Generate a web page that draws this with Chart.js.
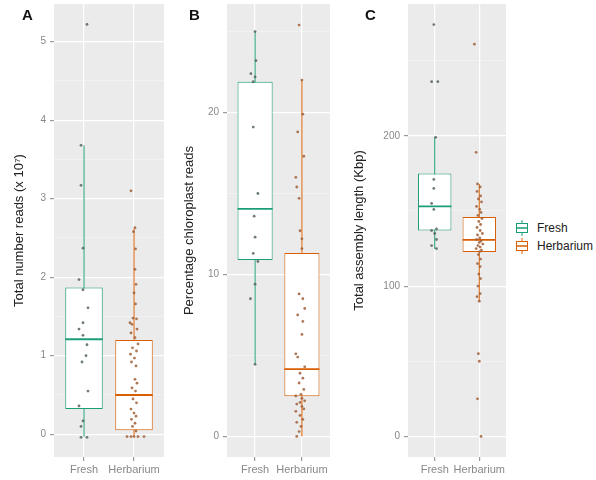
<!DOCTYPE html>
<html>
<head>
<meta charset="utf-8">
<script src="https://cdn.jsdelivr.net/npm/chart.js@4.4.1/dist/chart.umd.min.js"></script>
<style>
  body { margin: 0; background: #fff; font-family: "Liberation Sans", Arial, sans-serif; }
  #fig { position: relative; width: 596px; height: 480px; }
  .panel { position: absolute; top: 0; height: 480px; }
  .tag { position: absolute; top: 6px; font-weight: bold; font-size: 15px; color: #111; }
  .legend { position: absolute; left: 515px; top: 219px; font-size: 12px; color: #222; }
  .legend div { height: 18px; display: flex; align-items: center; }
  .legend svg { margin-right: 8px; }
</style>
</head>
<body>
<div id="fig">
  <div class="panel" style="left:0;width:168px"><canvas id="chartA"></canvas></div>
  <div class="panel" style="left:170px;width:164px"><canvas id="chartB"></canvas></div>
  <div class="panel" style="left:340px;width:170px"><canvas id="chartC"></canvas></div>
  <span class="tag" style="left:22px">A</span>
  <span class="tag" style="left:189px">B</span>
  <span class="tag" style="left:365px">C</span>
  <div class="legend">
    <div><svg width="14" height="16"><line x1="7" y1="0" x2="7" y2="16" stroke="#1b9e77"/><rect x="1.5" y="3.5" width="11" height="9" fill="#fff" stroke="#1b9e77"/><line x1="1.5" y1="8" x2="12.5" y2="8" stroke="#1b9e77" stroke-width="1.5"/></svg>Fresh</div>
    <div><svg width="14" height="16"><line x1="7" y1="0" x2="7" y2="16" stroke="#d95f02"/><rect x="1.5" y="3.5" width="11" height="9" fill="#fff" stroke="#d95f02"/><line x1="1.5" y1="8" x2="12.5" y2="8" stroke="#d95f02" stroke-width="1.5"/></svg>Herbarium</div>
  </div>
</div>
<script>
// ---------- categories ----------
const groups = ["Fresh", "Herbarium"];
const groupColors = ["#1b9e77", "#d95f02"];

// ---------- A: total number reads (x 10^7) ----------
// box stats: [lower whisker, q1, median, q3, upper whisker]
const freshReadsBox = [-0.03, 0.32, 1.21, 1.87, 3.68];
const herbReadsBox = [-0.03, 0.05, 0.50, 1.20, 2.62];
const freshReads = [5.22, 3.68, 3.17, 2.37, 1.97, 1.84, 1.61, 1.42, 1.34, 1.26, 1.14, 1.00, 0.92, 0.55, 0.36, 0.17, 0.10, -0.04, -0.04];
const freshReadsJit = [0.06, -0.06, -0.06, -0.02, -0.10, -0.02, 0.08, -0.02, -0.10, -0.02, 0.06, 0.04, -0.04, 0.08, -0.10, -0.02, -0.06, -0.06, 0.06];
const herbReads = [3.10, 2.63, 2.58, 2.36, 2.10, 1.91, 1.80, 1.66, 1.48, 1.47, 1.42, 1.40, 1.34, 1.29, 1.23, 1.15, 1.10, 1.06, 1.02, 0.97,
  0.92, 0.87, 0.70, 0.65, 0.59, 0.55, 0.45, 0.40, 0.32, 0.27, 0.23, 0.19, 0.14, 0.10, 0.04, -0.03, -0.03, -0.03, -0.03, -0.03];
const herbReadsJit = [-0.06, 0.02, -0.01, 0.03, 0.02, 0.04, 0.00, 0.03, -0.02, 0.05, -0.08, -0.04, 0.06, -0.06, 0.02, 0.08, -0.03, 0.05, -0.07, 0.01,
  -0.05, 0.04, 0.02, 0.06, -0.04, 0.03, -0.02, 0.05, -0.06, 0.00, 0.04, -0.05, 0.02, -0.03, 0.04, -0.14, -0.06, 0.00, 0.08, 0.20];
const readsMajor = [0, 1, 2, 3, 4, 5];
const readsMinor = [0.5, 1.5, 2.5, 3.5, 4.5];

// ---------- B: percentage chloroplast reads ----------
const freshChloroBox = [4.45, 10.9, 14.05, 21.9, 25.0];
const herbChloroBox = [0.0, 2.48, 4.15, 11.33, 22.0];
const freshChloro = [25.0, 23.2, 22.4, 22.2, 21.9, 19.1, 15.0, 13.6, 12.3, 11.3, 10.8, 9.4, 8.5, 4.45];
const freshChloroJit = [0, 0.02, -0.09, 0, -0.04, -0.04, 0.06, -0.02, 0, -0.04, 0.06, 0, -0.10, 0];
const herbChloro = [25.4, 22.0, 19.9, 18.8, 17.3, 16.0, 15.4, 14.7, 12.7, 12.2, 11.6, 8.8, 8.5, 7.9, 7.5, 7.1, 6.3, 5.1, 4.9, 4.3,
  3.9, 3.6, 3.3, 2.9, 2.6, 2.5, 2.35, 2.2, 2.1, 2.0, 1.85, 1.7, 1.55, 1.3, 1.05, 0.87, 0.62, 0.3, 0.0];
const herbChloroJit = [-0.06, 0, 0.02, -0.09, 0.04, -0.13, -0.11, -0.06, -0.04, 0, 0, -0.06, 0.02, 0.06, -0.09, 0.02, 0, -0.13, -0.09, 0.06,
  -0.04, 0.02, -0.06, 0.04, -0.02, -0.13, 0, 0.06, -0.04, -0.11, 0, 0.04, -0.13, -0.04, 0.02, -0.11, -0.02, -0.06, -0.11];
const chloroMajor = [0, 10, 20];
const chloroMinor = [5, 15, 25];

// ---------- C: total assembly length (Kbp) ----------
const freshLenBox = [124.7, 137, 153, 175, 199];
const herbLenBox = [90, 122.7, 130.7, 146, 168];
const freshLen = [274, 236, 236, 199, 171, 165, 155, 151, 138, 137, 135, 131, 127, 125];
const freshLenJit = [-0.02, -0.07, 0.07, 0.02, -0.02, -0.02, -0.07, -0.02, 0.04, -0.07, 0, 0.04, -0.07, 0.04];
const herbLen = [261, 189, 168, 166, 163, 160, 158, 156, 153, 151, 149, 147, 145, 143, 141, 139, 137, 135, 134, 132,
  131, 130, 129, 128, 127, 126, 125, 124, 123, 121, 118, 115, 113, 108, 105, 100, 95, 93, 90, 55, 50, 25, 0];
const herbLenJit = [-0.11, -0.07, -0.04, 0.02, -0.05, 0.03, -0.02, 0.05, -0.06, 0.01, 0.04, -0.03, 0.06, -0.01, 0.03, -0.05, 0.02, 0.07, -0.04, 0.01,
  -0.06, 0.04, 0.00, 0.08, -0.03, 0.02, -0.07, 0.05, 0.01, -0.02, 0.03, -0.04, 0.02, -0.01, 0.03, -0.03, 0.02, -0.05, 0.00, -0.02, 0.00, -0.04, 0.04];
const lenMajor = [0, 100, 200];
const lenMinor = [50, 150, 250];

// ---------- helpers ----------
const pointColors = ["rgba(85,100,95,0.85)", "rgba(160,95,55,0.85)"];

const panelBg = {
  id: "panelBg",
  beforeDraw(chart) {
    const { ctx, chartArea: a } = chart;
    ctx.save();
    ctx.fillStyle = "#ebebeb";
    ctx.fillRect(a.left, a.top, a.width, a.height);
    ctx.restore();
  }
};

function boxDatasets(boxes) {
  const sets = [];
  boxes.forEach((b, i) => {
    const g = i + 1;
    // whisker (drawn under the box)
    sets.push({
      type: "line", order: 3,
      data: [{ x: g, y: b[0] }, { x: g, y: b[4] }],
      borderColor: groupColors[i], borderWidth: 1, pointRadius: 0
    });
    // median
    sets.push({
      type: "line", order: 1,
      data: [{ x: g - 0.375, y: b[2] }, { x: g + 0.375, y: b[2] }],
      borderColor: groupColors[i], borderWidth: 1.8, pointRadius: 0
    });
  });
  // boxes q1..q3
  sets.push({
    type: "bar", order: 2,
    data: boxes.map((b, i) => ({ x: i + 1, y: [b[1], b[3]] })),
    backgroundColor: "#ffffff",
    borderColor: groupColors,
    borderWidth: 1,
    borderSkipped: false,
    barPercentage: 0.75,
    categoryPercentage: 1
  });
  return sets;
}

function pointDataset(values, jitter, i) {
  return {
    type: "scatter", order: 0,
    data: values.map((v, k) => ({ x: i + 1 + (jitter[k] || 0), y: v })),
    backgroundColor: pointColors[i],
    borderWidth: 0,
    pointRadius: 1.4
  };
}

function makePanel(id, o) {
  const allTicks = o.major.concat(o.minor).sort((a, b) => a - b);
  const isMajor = v => o.major.includes(v);
  new Chart(document.getElementById(id), {
    type: "scatter",
    data: {
      datasets: [
        pointDataset(o.fresh, o.freshJit, 0),
        pointDataset(o.herb, o.herbJit, 1),
        ...boxDatasets([o.freshBox, o.herbBox])
      ]
    },
    options: {
      responsive: false,
      animation: false,
      layout: { padding: { top: 4, right: 4, left: 0, bottom: 0 } },
      plugins: { legend: { display: false }, tooltip: { enabled: false } },
      scales: {
        x: {
          type: "linear", min: 0.4, max: 2.6, offset: false,
          afterBuildTicks: s => { s.ticks = [{ value: 1 }, { value: 2 }]; },
          afterFit: s => { s.height = 23; s.paddingLeft = 0; s.paddingRight = 0; },
          ticks: { callback: v => groups[v - 1], color: "#888", font: { size: 11, family: "Liberation Sans" }, padding: 2, maxRotation: 0, autoSkip: false },
          grid: { color: "#ffffff", lineWidth: 1.2, tickColor: "#999", tickLength: 4, offset: false },
          border: { display: false }
        },
        y: {
          min: o.min, max: o.max,
          afterBuildTicks: s => { s.ticks = allTicks.map(v => ({ value: v })); },
          afterFit: s => { s.width = o.axisWidth; s.paddingTop = 0; s.paddingBottom = 0; },
          ticks: { callback: v => isMajor(v) ? v : "", color: "#888", font: { size: 10, family: "Liberation Sans" }, padding: 4, autoSkip: false },
          grid: {
            color: c => isMajor(c.tick.value) ? "#ffffff" : "rgba(255,255,255,0.55)",
            lineWidth: c => isMajor(c.tick.value) ? 1.2 : 0.7,
            tickColor: c => isMajor(c.tick.value) ? "#999" : "rgba(0,0,0,0)",
            tickLength: 4
          },
          border: { display: false },
          title: { display: true, text: o.title, color: "#222", font: { size: 13, family: "Liberation Sans" }, padding: { top: 12, bottom: 0 } }
        }
      }
    },
    plugins: [panelBg]
  });
}

function sizeCanvas(id, w) {
  const c = document.getElementById(id);
  c.width = w; c.height = 480;
  c.style.width = w + "px"; c.style.height = "480px";
}

sizeCanvas("chartA", 168);
sizeCanvas("chartB", 164);
sizeCanvas("chartC", 170);

makePanel("chartA", {
  title: "Total number reads (x 10\u2077)", min: -0.29, max: 5.48, axisWidth: 54,
  major: readsMajor, minor: readsMinor,
  freshBox: freshReadsBox, herbBox: herbReadsBox,
  fresh: freshReads, freshJit: freshReadsJit, herb: herbReads, herbJit: herbReadsJit
});
makePanel("chartB", {
  title: "Percentage chloroplast reads", min: -1.27, max: 26.7, axisWidth: 57,
  major: chloroMajor, minor: chloroMinor,
  freshBox: freshChloroBox, herbBox: herbChloroBox,
  fresh: freshChloro, freshJit: freshChloroJit, herb: herbChloro, herbJit: herbChloroJit
});
makePanel("chartC", {
  title: "Total assembly length (Kbp)", min: -13.7, max: 287.7, axisWidth: 68,
  major: lenMajor, minor: lenMinor,
  freshBox: freshLenBox, herbBox: herbLenBox,
  fresh: freshLen, freshJit: freshLenJit, herb: herbLen, herbJit: herbLenJit
});
</script>
</body>
</html>
